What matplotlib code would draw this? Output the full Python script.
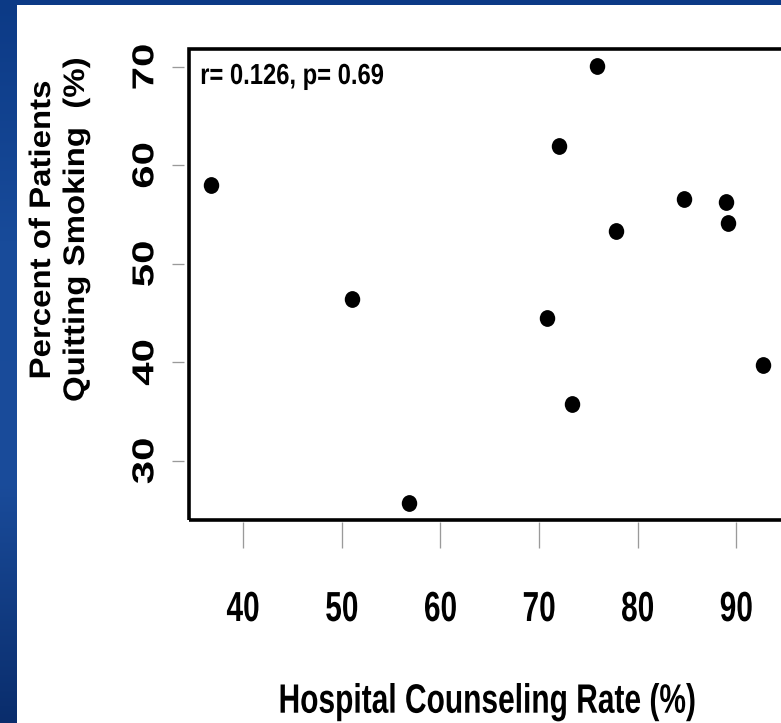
import matplotlib
matplotlib.use("Agg")
import numpy as np
import matplotlib.pyplot as plt
from matplotlib import patheffects
from matplotlib.transforms import Affine2D
from matplotlib.path import Path
from matplotlib.patches import Rectangle
from matplotlib.colors import LinearSegmentedColormap

# Hospital-level data: counselling rate vs. share of patients who quit smoking
counseling_rate = [36.7, 51.0, 56.8, 70.8, 72.05, 73.3, 75.85, 77.75, 84.7, 88.9, 89.2, 92.7]
quit_rate = [58.0, 46.4, 25.75, 44.5, 62.0, 35.8, 70.1, 53.35, 56.6, 56.25, 54.2, 39.7]

x_ticks = [40, 50, 60, 70, 80, 90]
y_ticks = [30, 40, 50, 60, 70]
x_title = "Hospital Counseling Rate (%)"
y_title = "Percent of Patients\nQuitting Smoking  (%)"
stats_note = "r= 0.126, p= 0.69"

W, H, DPI = 781, 723, 100


def pt(px):
    """Convert a length in pixels to points."""
    return px * 72.0 / DPI


class Squeeze(patheffects.AbstractPathEffect):
    """Render text narrowed horizontally, about its ink centre or its baseline."""

    def __init__(self, factor, about="ink"):
        super().__init__()
        self.factor = factor
        self.about = about

    def draw_path(self, renderer, gc, tpath, affine, rgbFace=None):
        if self.about == "baseline":
            cx = affine.transform((0.0, 0.0))[0]
        else:
            ext = tpath.get_extents(affine)
            cx = 0.5 * (ext.x0 + ext.x1)
        narrowed = (Affine2D(affine.get_matrix())
                    .translate(-cx, 0).scale(self.factor, 1.0).translate(cx, 0))
        renderer.draw_path(gc, tpath, narrowed, rgbFace)


plt.rcParams["font.family"] = ["Liberation Sans", "DejaVu Sans"]
plt.rcParams["font.weight"] = "bold"
plt.rcParams["axes.labelweight"] = "bold"

fig = plt.figure(figsize=(W / DPI, H / DPI), dpi=DPI)

# slide background: blue gradient frame with a white panel
bg = fig.add_axes([0, 0, 1, 1], zorder=-5)
bg.set_axis_off()
slide_blue = LinearSegmentedColormap.from_list(
    "slide_blue", ["#0c3a86", "#184b9a", "#1a4c9b", "#0a2d6c"])
bg.imshow(np.linspace(0, 1, 256)[:, None], cmap=slide_blue, aspect="auto",
          extent=(0, 1, 0, 1))
bg.add_patch(Rectangle((17 / W, 0), 1 - 17 / W, 1 - 5 / H,
                       facecolor="white", edgecolor="none"))
bg.set_xlim(0, 1)
bg.set_ylim(0, 1)

# plotting region (its right edge runs just past the panel)
left_px, right_px, top_px, bottom_px = 188.6, 785.1, 48.5, 520.2
ax = fig.add_axes([left_px / W, 1 - bottom_px / H,
                   (right_px - left_px) / W, (bottom_px - top_px) / H])
ax.set_facecolor("white")


def padded(values, frac=0.04):
    lo, hi = min(values), max(values)
    pad = (hi - lo) * frac
    return lo - pad, hi + pad


ax.set_xlim(*padded(counseling_rate))
ax.set_ylim(*padded(quit_rate))

dot = Path.unit_circle().transformed(Affine2D().scale(0.92, 1.0))
ax.plot(counseling_rate, quit_rate, linestyle="none", marker=dot,
        markersize=pt(16.8), color="black", markeredgewidth=0, zorder=3)

# heavy box around the plot, ticks drawn slightly detached from it
for spine in ax.spines.values():
    spine.set_visible(False)
ax.spines["left"].set_position(("outward", pt(4.6)))
ax.spines["bottom"].set_position(("outward", pt(1.8)))
ax.add_patch(Rectangle((0, 0), 1, 1, transform=ax.transAxes, fill=False,
                       edgecolor="black", linewidth=pt(3.6), clip_on=False,
                       zorder=4))

ax.set_xticks(x_ticks)
ax.set_yticks(y_ticks)
ax.tick_params(axis="both", direction="out", color="#9a9a9a", width=pt(1.3),
               labelcolor="black")
ax.tick_params(axis="x", length=pt(26), pad=pt(42), labelsize=pt(42))
ax.tick_params(axis="y", length=pt(12), pad=pt(9.7), labelsize=pt(42),
               labelrotation=90)
for lab in ax.get_xticklabels():
    lab.set_path_effects([Squeeze(0.71)])
for lab in ax.get_yticklabels():
    lab.set_rotation_mode("default")
    lab.set_va("center")
    lab.set_ha("right")
    lab.set_path_effects([Squeeze(0.72, "baseline")])

ax.set_xlabel(x_title, fontsize=pt(41), fontweight="bold")
ax.xaxis.label.set_va("baseline")
ax.xaxis.label.set_path_effects([Squeeze(0.73)])
ax.xaxis.set_label_coords(0.5, (bottom_px - 712.7) / (bottom_px - top_px))

ax.set_ylabel(y_title, fontsize=pt(33), fontweight="bold", linespacing=1.125)
ax.yaxis.label.set_va("baseline")
ax.yaxis.label.set_path_effects([Squeeze(0.9, "baseline")])
ax.yaxis.set_label_coords((81 - left_px) / (right_px - left_px),
                          (bottom_px - 230) / (bottom_px - top_px))

ax.text((292 - left_px) / (right_px - left_px),
        (bottom_px - 84) / (bottom_px - top_px), stats_note,
        transform=ax.transAxes, ha="center", va="baseline",
        fontsize=pt(29), fontweight="bold", path_effects=[Squeeze(0.82)],
        zorder=5)

fig.savefig("out.png", dpi=DPI)
